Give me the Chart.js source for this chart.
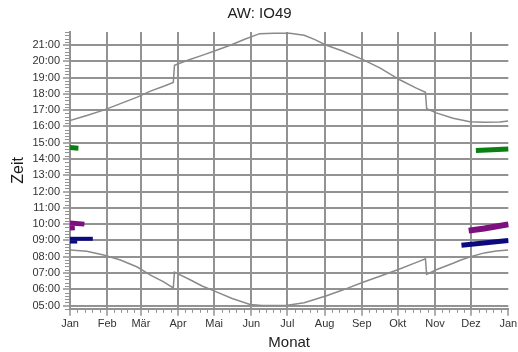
<!DOCTYPE html>
<html>
<head>
<meta charset="utf-8">
<script src="https://cdn.jsdelivr.net/npm/chart.js@4/dist/chart.umd.min.js"></script>
<style>
html,body{margin:0;padding:0;background:#fff;}
#wrap{width:518px;height:352px;}
</style>
</head>
<body>
<div id="wrap"><canvas id="c" width="518" height="352"></canvas></div>
<script>
// ---- data (day of year, local time) ----
const monthNames = ['Jan','Feb','Mär','Apr','Mai','Jun','Jul','Aug','Sep','Okt','Nov','Dez','Jan'];
const monthDays  = [0,31,59,90,120,151,181,212,243,273,304,334,365];
const yTickHours = [5,6,7,8,9,10,11,12,13,14,15,16,17,18,19,20,21];
const yTickLabels = ['05:00','06:00','07:00','08:00','09:00','10:00','11:00','12:00','13:00','14:00','15:00','16:00','17:00','18:00','19:00','20:00','21:00'];

const sunsetDays  = [0,14,28,42,56,67,78,86,87,98,110,122,134,146,158,170,183,195,204,213,227,243,258,275,288,296,297,305,319,333,345,358,365];
const sunsetTimes = ['16:22','16:40','17:00','17:24','17:48','18:10','18:28','18:42','19:45','20:04','20:22','20:41','21:00','21:22','21:42','21:43','21:43','21:36','21:20','21:00','20:38','20:08','19:36','18:51','18:22','18:06','17:05','16:50','16:30','16:17','16:15','16:16','16:20'];

const sunriseDays  = [0,14,28,42,56,67,78,86,87,100,110,120,135,150,160,172,181,195,213,227,244,258,274,288,296,297,305,319,325,335,345,355,365];
const sunriseTimes = ['08:25','08:20','08:06','07:48','07:22','06:52','06:27','06:05','07:03','06:35','06:12','05:54','05:26','05:04','05:00','05:00','05:01','05:10','05:35','05:57','06:26','06:48','07:14','07:38','07:52','06:55','07:12','07:36','07:47','08:02','08:14','08:21','08:25'];

const greenJanDays = [0,7];        const greenJanTimes = ['14:42','14:40'];
const purpleJanDays = [0,12];      const purpleJanTimes = ['10:04','10:00'];
const purpleJan2Days = [0,4];      const purpleJan2Times = ['09:46','09:47'];
const navyJanDays = [0,19];        const navyJanTimes = ['09:06','09:06'];
const navyJan2Days = [0,6];        const navyJan2Times = ['08:54','08:54'];
const greenDecDays = [338,365];    const greenDecTimes = ['14:31','14:37'];
const purpleDecDays = [332,345,365]; const purpleDecTimes = ['09:36','09:44','09:59'];
const navyDecDays = [326,365];     const navyDecTimes = ['08:42','09:00'];

// ---- helpers ----
function t(s){const p=s.split(':').map(Number);return p[0]+p[1]/60;}
function pts(days,times){return days.map((d,i)=>({x:d,y:t(times[i])}));}

const FONT = "'Liberation Sans', Arial, sans-serif";
const GRID = '#929292';
const CURVE = '#8a8a8a';

function curve(data){return {data, borderColor:CURVE, borderWidth:1.5, pointRadius:0, showLine:true, tension:0, order:2};}
function bar(data,color,w){return {data, borderColor:color, backgroundColor:color, borderWidth:w, pointRadius:0, showLine:true, borderCapStyle:'butt', tension:0, order:1, clip:false};}

const minorTicks = {
  id:'minorTicks',
  afterDraw(chart){
    const {ctx, scales:{x,y}, chartArea} = chart;
    ctx.save();
    ctx.strokeStyle = GRID; ctx.lineWidth = 1;
    for (let m = Math.ceil(y.min*5)*12; m <= y.max*60 + 0.01; m += 12){
      if (m % 60 === 0) continue;
      const py = Math.round(y.getPixelForValue(m/60)) + 0.5;
      ctx.beginPath(); ctx.moveTo(chartArea.left-5, py); ctx.lineTo(chartArea.left, py); ctx.stroke();
    }
    for (let i = 0; i < monthDays.length-1; i++){
      const a = monthDays[i], b = monthDays[i+1];
      for (let k = 1; k < 5; k++){
        const px = Math.round(x.getPixelForValue(a + (b-a)*k/5)) + 0.5;
        ctx.beginPath(); ctx.moveTo(px, chartArea.bottom); ctx.lineTo(px, chartArea.bottom+4); ctx.stroke();
      }
    }
    ctx.restore();
  }
};

new Chart(document.getElementById('c'), {
  type:'scatter',
  data:{datasets:[
    curve(pts(sunsetDays,sunsetTimes)),
    curve(pts(sunriseDays,sunriseTimes)),
    bar(pts(greenJanDays,greenJanTimes),'#0a7f12',5),
    bar(pts(purpleJanDays,purpleJanTimes),'#7d0f7f',5),
    bar(pts(purpleJan2Days,purpleJan2Times),'#7d0f7f',5),
    bar(pts(navyJanDays,navyJanTimes),'#0b0b7e',4),
    bar(pts(navyJan2Days,navyJan2Times),'#0b0b7e',3),
    bar(pts(greenDecDays,greenDecTimes),'#0a7f12',5),
    bar(pts(purpleDecDays,purpleDecTimes),'#7d0f7f',6),
    bar(pts(navyDecDays,navyDecTimes),'#0b0b7e',5)
  ]},
  options:{
    responsive:false, animation:false,
    layout:{padding:{left:1,right:0,top:0,bottom:0}},
    plugins:{
      legend:{display:false}, tooltip:{enabled:false},
      title:{display:true, text:'AW: IO49', color:'#222', font:{family:FONT,size:15,weight:'normal'}, padding:{top:5,bottom:9}}
    },
    scales:{
      x:{
        type:'linear', min:0, max:365,
        afterBuildTicks(s){ s.ticks = monthDays.map(v=>({value:v})); },
        afterFit(s){ s.height = 43.2; s.paddingLeft = 0; s.paddingRight = 9.7; },
        ticks:{autoSkip:false, maxRotation:0, padding:2, color:'#333', font:{family:FONT,size:11},
          callback:(v,i)=>monthNames[i]},
        grid:{color:(c)=> (c.tick && c.tick.value===365) ? 'rgba(0,0,0,0)' : GRID, lineWidth:2, tickLength:7, tickColor:GRID, tickWidth:1.5},
        border:{display:true, color:GRID, width:2},
        title:{display:true, text:'Monat', color:'#222', font:{family:FONT,size:15}, padding:{top:0,bottom:0}}
      },
      y:{
        type:'linear', min:4.8, max:21.8,
        afterBuildTicks(s){ s.ticks = yTickHours.map(v=>({value:v})); },
        afterFit(s){ s.width = 69; s.paddingTop = 0; s.paddingBottom = 0; },
        ticks:{autoSkip:false, padding:3, color:'#333', font:{family:FONT,size:11},
          callback:(v,i)=>yTickLabels[i]},
        grid:{color:GRID, lineWidth:2, tickLength:7, tickColor:GRID, tickWidth:1.5},
        border:{display:true, color:GRID, width:2},
        title:{display:true, text:'Zeit', color:'#1a1a1a', font:{family:FONT,size:16}, padding:{top:8,bottom:0}}
      }
    }
  },
  plugins:[minorTicks]
});
</script>
</body>
</html>
